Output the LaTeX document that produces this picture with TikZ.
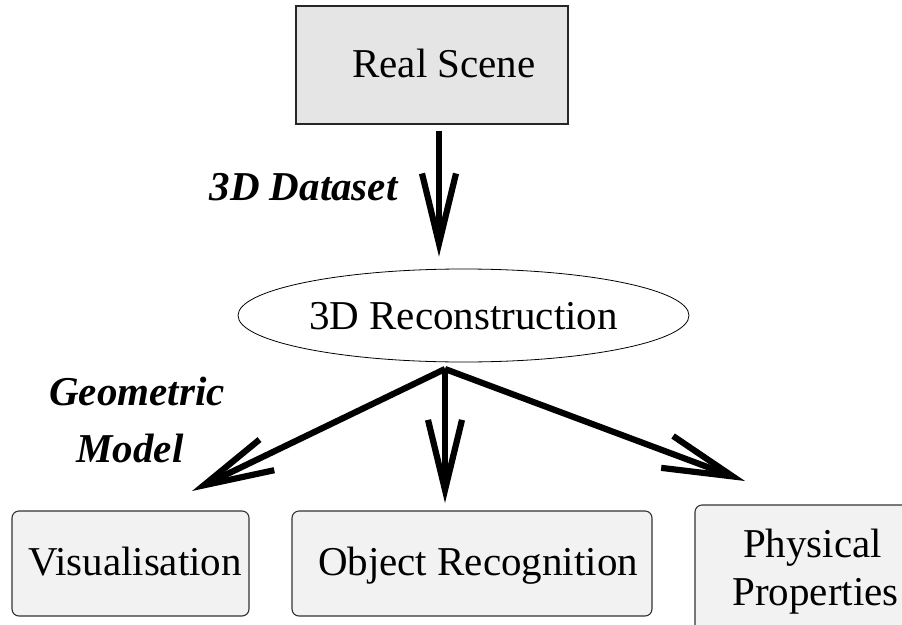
\documentclass[tikz,border=0pt]{standalone}
\usepackage{fontspec}
\setmainfont{Liberation Serif}
\usetikzlibrary{arrows.meta,shapes.geometric}
\begin{document}
\begin{tikzpicture}[x=1pt,y=-1pt,
  txt/.style={font=\fontsize{41}{48}\selectfont, inner sep=0pt, anchor=base},
  emph/.style={font=\fontsize{41}{48}\selectfont\bfseries\itshape, inner sep=0pt, anchor=base},
  scenebox/.style={draw=black!85, line width=1.2pt, fill=black!10,
    minimum width=272pt, minimum height=118pt, inner sep=0pt},
  taskbox/.style={draw=black!80, line width=1.1pt, fill=black!5, rounded corners=7pt,
    minimum height=105pt, inner sep=0pt},
  recon/.style={draw=black, line width=0.8pt, ellipse, inner sep=0pt,
    minimum width=451pt, minimum height=93pt},
  bigarrow/.style={line width=6.2pt,
    -{Straight Barb[sharp, length=70pt, width=34pt]}}
]
\useasboundingbox (0,0) rectangle (902,624);
\clip (0,0) rectangle (902,624);

% boxes
\node[scenebox] (scene) at (432,65) {};
\node[txt] (sceneT) at (444,77) {Real Scene};

\node[recon] (rec) at (463.5,315.5) {};
\node[txt] (recT) at (463.5,329) {3D Reconstruction};

\node[taskbox, minimum width=237pt] (vis) at (130.5,563.5) {};
\node[txt] (visT) at (135,575) {Visualisation};

\node[taskbox, minimum width=360pt] (obj) at (472,563.5) {};
\node[txt] (objT) at (478,575) {Object Recognition};

\node[taskbox, minimum width=225pt, minimum height=135pt] (phys) at (807.5,572.5) {};
\node[txt] (physA) at (812.5,557) {Physical};
\node[txt] (physB) at (815.5,605) {Properties};

% edge labels
\node[emph] (dataset) at (303.5,200) {3D Dataset};
\node[emph] (geoA) at (137,405) {Geometric};
\node[emph] (geoB) at (130,462) {Model};

% connectors
\draw[bigarrow, shorten <=6pt, shorten >=12pt]
  ([xshift=7pt]scene.south) -- ([xshift=-24.5pt]rec.north);

\coordinate (apex) at (445,369);
\coordinate (tipL) at (192,491);
\coordinate (tipM) at (445,503);
\coordinate (tipR) at (745,481);
\draw[bigarrow] (apex) -- (tipL);
\draw[bigarrow] (apex) -- (tipM);
\draw[bigarrow] (apex) -- (tipR);
\end{tikzpicture}
\end{document}
